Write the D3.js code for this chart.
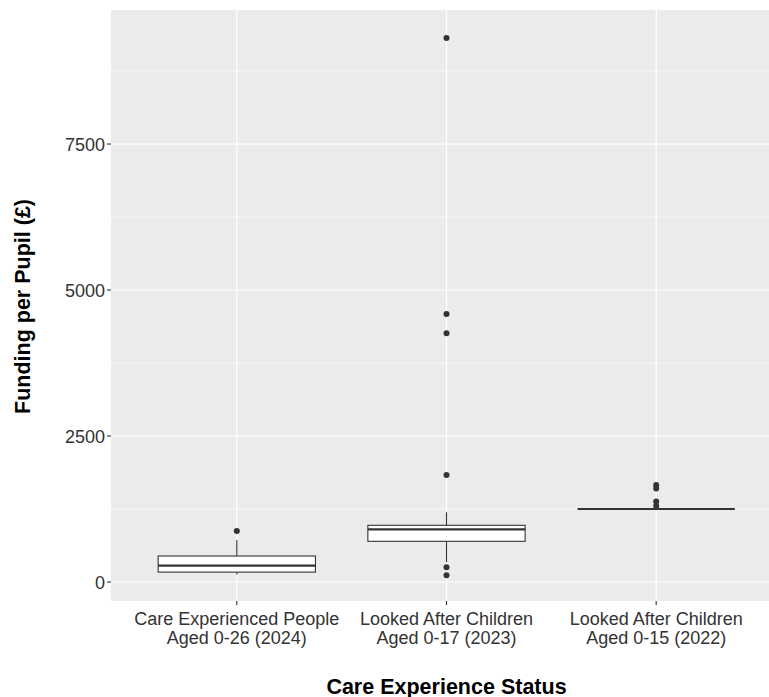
<!DOCTYPE html>
<html>
<head>
<meta charset="utf-8">
<script src="https://cdn.jsdelivr.net/npm/d3@7"></script>
<style>
  html, body { margin: 0; padding: 0; background: #fff; }
  svg { display: block; }
</style>
</head>
<body>
<svg id="chart" width="769" height="697"></svg>
<script>
/* Boxplot of funding per pupil by care experience status, ggplot-ish look. */
const categories = [
  ['Care Experienced People', 'Aged 0-26 (2024)'],
  ['Looked After Children', 'Aged 0-17 (2023)'],
  ['Looked After Children', 'Aged 0-15 (2022)']
];
// five-number summaries: [lowWhisker, q1, median, q3, highWhisker]
const boxStats = [
  [130, 170, 280, 445, 720],
  [340, 697, 902, 971, 1195],
  [1250, 1250, 1250, 1250, 1250]
];
const outliers = [
  [873],
  [9315, 4589, 4260, 1832, 252, 115],
  [1660, 1600, 1380, 1300]
];
const yTicks = [0, 2500, 5000, 7500];
const yMinor = [1250, 3750, 6250, 8750];

const svg = d3.select('#chart');
const panel = { left: 111, top: 10, right: 782, bottom: 601 };
const font = 'Liberation Sans, Arial, sans-serif';
const ink = '#333333';

const x = d3.scalePoint()
  .domain(d3.range(categories.length))
  .range([panel.left, panel.right])
  .padding(0.6);
const y = d3.scaleLinear()
  .domain([-325, 9795])
  .range([panel.bottom, panel.top]);

// panel background
svg.append('rect')
  .attr('x', panel.left).attr('y', panel.top)
  .attr('width', panel.right - panel.left).attr('height', panel.bottom - panel.top)
  .attr('fill', '#EBEBEB');

// grid
const grid = svg.append('g');
yMinor.forEach(v => {
  grid.append('line')
    .attr('x1', panel.left).attr('x2', panel.right)
    .attr('y1', y(v)).attr('y2', y(v))
    .attr('stroke', '#fff').attr('stroke-width', 0.6);
});
yTicks.forEach(v => {
  grid.append('line')
    .attr('x1', panel.left).attr('x2', panel.right)
    .attr('y1', y(v)).attr('y2', y(v))
    .attr('stroke', '#fff').attr('stroke-width', 1.2);
});
x.domain().forEach(i => {
  grid.append('line')
    .attr('x1', x(i)).attr('x2', x(i))
    .attr('y1', panel.top).attr('y2', panel.bottom)
    .attr('stroke', '#fff').attr('stroke-width', 1.2);
});

// boxes
const boxW = x.step() * 0.75;
boxStats.forEach((s, i) => {
  const cx = x(i);
  const g = svg.append('g');
  g.append('line')
    .attr('x1', cx).attr('x2', cx).attr('y1', y(s[3])).attr('y2', y(s[4]))
    .attr('stroke', ink).attr('stroke-width', 1.1);
  g.append('line')
    .attr('x1', cx).attr('x2', cx).attr('y1', y(s[0])).attr('y2', y(s[1]))
    .attr('stroke', ink).attr('stroke-width', 1.1);
  g.append('rect')
    .attr('x', cx - boxW / 2).attr('width', boxW)
    .attr('y', y(s[3])).attr('height', Math.max(0, y(s[1]) - y(s[3])))
    .attr('fill', '#fff').attr('stroke', ink).attr('stroke-width', 1.1);
  g.append('line')
    .attr('x1', cx - boxW / 2).attr('x2', cx + boxW / 2)
    .attr('y1', y(s[2])).attr('y2', y(s[2]))
    .attr('stroke', ink).attr('stroke-width', 2.2);
});

// outliers
outliers.forEach((arr, i) => {
  arr.forEach(v => {
    svg.append('circle')
      .attr('cx', x(i)).attr('cy', y(v)).attr('r', 3)
      .attr('fill', ink);
  });
});

// y axis
const yAx = svg.append('g');
yTicks.forEach(v => {
  yAx.append('line')
    .attr('x1', panel.left - 4).attr('x2', panel.left)
    .attr('y1', y(v)).attr('y2', y(v))
    .attr('stroke', ink).attr('stroke-width', 1.1);
  yAx.append('text')
    .attr('x', panel.left - 6).attr('y', y(v) + 6.5)
    .attr('text-anchor', 'end')
    .attr('font-family', font).attr('font-size', 18)
    .attr('fill', '#333')
    .text(v);
});

// x axis
const xAx = svg.append('g');
categories.forEach((lines, i) => {
  xAx.append('line')
    .attr('x1', x(i)).attr('x2', x(i))
    .attr('y1', panel.bottom).attr('y2', panel.bottom + 4)
    .attr('stroke', ink).attr('stroke-width', 1.1);
  const t = xAx.append('text')
    .attr('text-anchor', 'middle')
    .attr('font-family', font).attr('font-size', 18)
    .attr('fill', '#333');
  lines.forEach((l, k) => {
    t.append('tspan').attr('x', x(i)).attr('y', 624.5 + k * 19.5).text(l);
  });
});

// axis titles
svg.append('text')
  .attr('x', (panel.left + panel.right) / 2).attr('y', 693.5)
  .attr('text-anchor', 'middle')
  .attr('font-family', font).attr('font-size', 21.5).attr('font-weight', 'bold')
  .attr('fill', '#000')
  .text('Care Experience Status');

svg.append('text')
  .attr('transform', `translate(30, ${(panel.top + panel.bottom) / 2 + 1}) rotate(-90)`)
  .attr('text-anchor', 'middle')
  .attr('font-family', font).attr('font-size', 21.5).attr('font-weight', 'bold')
  .attr('fill', '#000')
  .text('Funding per Pupil (£)');
</script>
</body>
</html>
